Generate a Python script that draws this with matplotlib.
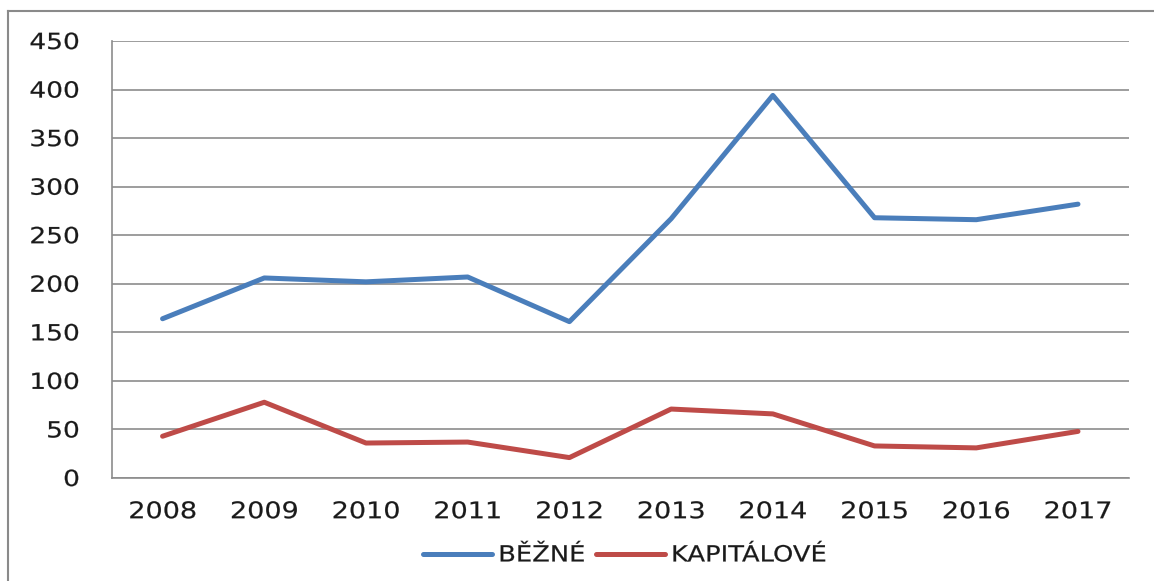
import matplotlib.pyplot as plt
from matplotlib.lines import Line2D
from matplotlib.patheffects import AbstractPathEffect
from matplotlib.transforms import Affine2D

plt.rcParams['font.family'] = ['DejaVu Sans']

# data
roky = ["2008", "2009", "2010", "2011", "2012", "2013", "2014", "2015", "2016", "2017"]
bezne = [164, 206, 202, 207, 161, 267, 394, 268, 266, 282]
kapitalove = [43, 78, 36, 37, 21, 71, 66, 33, 31, 48]


class StretchX(AbstractPathEffect):
    """widen the text horizontally (original picture is stretched)"""

    def __init__(self, sx, anchor="center", lw=0.15):
        super().__init__()
        self.sx = sx
        self.anchor = anchor
        self.lw = lw

    def draw_path(self, renderer, gc, tpath, affine, rgbFace=None):
        ext = tpath.get_extents(affine)
        a = {"left": ext.x0, "right": ext.x1}.get(self.anchor, (ext.x0 + ext.x1) / 2)
        t = affine + Affine2D().translate(-a, 0).scale(self.sx, 1).translate(a, 0)
        gc0 = renderer.new_gc()
        gc0.copy_properties(gc)
        gc0.set_linewidth(self.lw)
        if rgbFace is not None:
            gc0.set_foreground(rgbFace)
        renderer.draw_path(gc0, tpath, t, rgbFace)
        gc0.restore()


fig = plt.figure(figsize=(11.54, 5.81), dpi=100)
ax = fig.add_axes([0.0968, 0.1773, 0.8814, 0.7521])

x = range(len(roky))
ax.plot(x, bezne, color="#4a7ebb", lw=3.6, label="BĚŽNÉ", solid_capstyle="round")
ax.plot(x, kapitalove, color="#be4b48", lw=3.6, label="KAPITÁLOVÉ", solid_capstyle="round")

ax.set_xlim(-0.5, len(roky) - 0.5)
ax.set_ylim(0, 450)
ax.set_yticks(range(0, 451, 50))
ax.set_xticks(list(x))
ax.set_xticklabels(roky)

ax.grid(axis="y", color="#8c8c8c", lw=1.2)
ax.set_axisbelow(True)
for s in ["top", "right"]:
    ax.spines[s].set_visible(False)
for s in ["left", "bottom"]:
    ax.spines[s].set_color("#8c8c8c")
    ax.spines[s].set_linewidth(1.2)
ax.tick_params(axis="y", length=0, pad=23, labelsize=16, labelcolor="#1a1a1a")
ax.tick_params(axis="x", length=0, pad=16, labelsize=16.5, labelcolor="#1a1a1a")
for t in ax.get_yticklabels():
    t.set_path_effects([StretchX(1.19, "right")])
for t in ax.get_xticklabels():
    t.set_path_effects([StretchX(1.18, "center")])

leg = fig.legend(loc="center left", bbox_to_anchor=(423 / 1154, 0.044), ncol=2,
                 frameon=False, fontsize=16, handlelength=3.1, handletextpad=0.3,
                 columnspacing=1.0, borderaxespad=0, borderpad=0,
                 labelcolor="#1a1a1a")
for t in leg.get_texts():
    t.set_path_effects([StretchX(1.16, "left")])

# outer chart frame: only the top and left edges are inside the picture
fig.add_artist(Line2D([0.0072, 1.0], [0.981, 0.981], transform=fig.transFigure,
                      color="#8a8a8a", lw=1.5))
fig.add_artist(Line2D([0.0072, 0.0072], [0.0, 0.981], transform=fig.transFigure,
                      color="#8a8a8a", lw=1.5))

fig.savefig("out.png", dpi=100)
